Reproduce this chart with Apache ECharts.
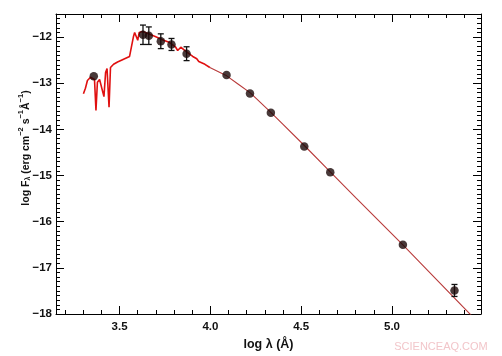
<!DOCTYPE html>
<html>
<head>
<meta charset="utf-8">
<script src="https://cdn.jsdelivr.net/npm/echarts@6.0.0/dist/echarts.min.js"></script>
<style>html,body{margin:0;padding:0;background:#fff;}#c{width:502px;height:356px;}</style>
</head>
<body>
<div id="c"></div>
<script>
// Model spectrum (stellar atmosphere part)
const specLogLam = [3.301,3.312,3.323,3.340,3.351,3.362,3.370,3.378,3.390,3.400,3.414,3.423,3.431,3.442,3.450,3.467,3.489,3.522,3.555,3.566,3.577,3.583,3.594,3.600,3.608,3.627,3.655,3.693,3.732,3.776,3.809,3.820,3.837,3.865,3.903,3.925,3.936,3.947,3.970,3.997];
const specLogF   = [-13.23,-13.11,-12.94,-12.87,-12.85,-12.92,-13.59,-12.98,-12.92,-12.94,-13.29,-12.77,-12.68,-13.52,-12.66,-12.59,-12.54,-12.48,-12.42,-12.38,-11.98,-11.90,-11.90,-12.07,-11.90,-11.88,-11.92,-11.98,-12.05,-12.12,-12.22,-12.29,-12.22,-12.31,-12.42,-12.47,-12.53,-12.57,-12.59,-12.66];
// Model tail (smooth)
const modelLogLam = [3.997,4.05,4.09,4.15,4.22,4.33,4.40,4.52,4.66,4.80,5.06,5.20,5.434,5.49];
const modelLogF   = [-12.66,-12.76,-12.84,-13.01,-13.21,-13.62,-13.89,-14.36,-14.92,-15.48,-16.50,-17.07,-18.02,-18.25];
// Observed photometry
const obsLogLam = [3.358,3.629,3.661,3.727,3.786,3.869,4.089,4.218,4.333,4.517,4.660,5.060,5.344];
const obsLogF   = [-12.85,-11.95,-11.97,-12.09,-12.16,-12.36,-12.82,-13.22,-13.64,-14.37,-14.93,-16.50,-17.49];
const obsErr    = [0,0.21,0.19,0.16,0.13,0.15,0,0,0,0,0,0,0.13];
// Axis ticks
const xMajorTicks = [3.5,4.0,4.5,5.0];
const xMinorTicks = [3.2,3.3,3.4,3.6,3.7,3.8,3.9,4.1,4.2,4.3,4.4,4.6,4.7,4.8,4.9,5.1,5.2,5.3,5.4];
const yMajorTicks = [-18,-17,-16,-15,-14,-13,-12];
const yMinorTicks = [];
for (let k = -180; k <= -116; k++) { if (k % 10 !== 0) yMinorTicks.push(k / 10); }
const xRange = [3.15, 5.49];
const yRange = [-18, -11.5];

const chart = echarts.init(document.getElementById('c'), null, {renderer: 'canvas'});
const lineCol = '#000';
const FF = 'Liberation Sans, Arial, sans-serif';
const labelFont = {color: '#111', fontSize: 11.5, fontWeight: 'bold', fontFamily: FF};

function xAx(pos, ticks, len, labels, line) {
  return {
    type: 'value', position: pos, min: xRange[0], max: xRange[1], gridIndex: 0,
    axisLine: {show: line, onZero: false, lineStyle: {color: lineCol, width: 1}},
    axisTick: {show: true, inside: true, length: len, customValues: ticks, lineStyle: {color: lineCol, width: 1}},
    axisLabel: labels ? Object.assign({show: true, customValues: ticks, margin: 7, formatter: v => v.toFixed(1)}, labelFont) : {show: false},
    splitLine: {show: false}
  };
}
function yAx(pos, ticks, len, labels, line) {
  return {
    type: 'value', position: pos, min: yRange[0], max: yRange[1], gridIndex: 0,
    axisLine: {show: line, onZero: false, lineStyle: {color: lineCol, width: 1}},
    axisTick: {show: true, inside: true, length: len, customValues: ticks, lineStyle: {color: lineCol, width: 1}},
    axisLabel: labels ? Object.assign({show: true, customValues: ticks, margin: 4, formatter: v => (v < 0 ? '\u2212' : '') + Math.abs(v)}, labelFont) : {show: false},
    splitLine: {show: false}
  };
}

const xAxes = [
  xAx('bottom', xMajorTicks, 8, true, true),
  xAx('bottom', xMinorTicks, 4, false, false),
  xAx('top', xMajorTicks, 8, false, true),
  xAx('top', xMinorTicks, 4, false, false)
];
xAxes[0].name = 'log \u03bb (\u00c5)';
xAxes[0].nameLocation = 'middle';
xAxes[0].nameGap = 18;
xAxes[0].nameTextStyle = {color: '#111', fontSize: 12.5, fontWeight: 'bold', fontFamily: FF};

const yAxes = [
  yAx('left', yMajorTicks, 8, true, true),
  yAx('left', yMinorTicks, 4, false, false),
  yAx('right', yMajorTicks, 8, false, true),
  yAx('right', yMinorTicks, 4, false, false)
];

const zip = (a, b) => a.map((v, i) => [v, b[i]]);

chart.setOption({
  animation: false,
  backgroundColor: '#fff',
  grid: {left: 56, right: 21, top: 14, bottom: 42, containLabel: false},
  xAxis: xAxes,
  yAxis: yAxes,
  graphic: [
    {
      type: 'text', x: 24, y: 148, rotation: Math.PI / 2,
      style: {
        text: '{n|log F}{sub|\u03bb}{n| (erg cm}{sup|\u22122}{n| s}{sup|\u22121}{n|\u00c5}{sup|\u22121}{n|)}',
        align: 'center', verticalAlign: 'middle',
        rich: {
          n: {fontSize: 10.5, fontWeight: 'bold', fill: '#111', fontFamily: FF, lineHeight: 15, verticalAlign: 'bottom'},
          sup: {fontSize: 7.5, fontWeight: 'bold', fill: '#111', fontFamily: FF, lineHeight: 15, verticalAlign: 'top'},
          sub: {fontSize: 7, fontWeight: 'bold', fill: '#111', fontFamily: FF, lineHeight: 11, verticalAlign: 'bottom'}
        }
      }
    },
    {
      type: 'text', x: 441, y: 347,
      style: {text: 'SCIENCEAQ.COM', align: 'center', verticalAlign: 'middle', fill: '#f2c6ca', fontSize: 11, fontFamily: FF}
    }
  ],
  series: [
    {
      type: 'line', xAxisIndex: 0, yAxisIndex: 0, data: zip(specLogLam, specLogF),
      symbol: 'none', lineStyle: {color: '#e01010', width: 1.6}, z: 2, clip: true
    },
    {
      type: 'line', xAxisIndex: 0, yAxisIndex: 0, data: zip(modelLogLam, modelLogF),
      symbol: 'none', lineStyle: {color: '#b83a3a', width: 1.1}, z: 2, clip: true
    },
    {
      type: 'custom', xAxisIndex: 0, yAxisIndex: 0, z: 3,
      data: obsLogLam.map((x, i) => [x, obsLogF[i], obsErr[i]]),
      renderItem: function (params, api) {
        const x = api.value(0), y = api.value(1), e = api.value(2);
        if (!e) return null;
        const top = api.coord([x, y + e]);
        const bot = api.coord([x, y - e]);
        const w = 3;
        const st = {stroke: '#111', lineWidth: 1.3};
        return {type: 'group', children: [
          {type: 'line', shape: {x1: top[0], y1: top[1], x2: bot[0], y2: bot[1]}, style: st},
          {type: 'line', shape: {x1: top[0] - w, y1: top[1], x2: top[0] + w, y2: top[1]}, style: st},
          {type: 'line', shape: {x1: bot[0] - w, y1: bot[1], x2: bot[0] + w, y2: bot[1]}, style: st}
        ]};
      }
    },
    {
      type: 'scatter', xAxisIndex: 0, yAxisIndex: 0, z: 4,
      data: zip(obsLogLam, obsLogF), symbol: 'circle', symbolSize: 8.5,
      itemStyle: {color: '#1a0808', borderColor: '#1a0808', borderWidth: 0}
    }
  ]
});
</script>
</body>
</html>
